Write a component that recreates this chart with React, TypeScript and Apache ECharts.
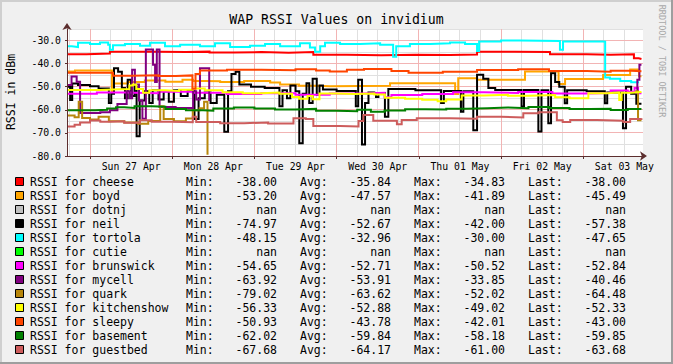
import React, { useEffect, useRef } from "react";
import * as echarts from "echarts";

type Pt = [number, number | null];

const TITLE = "WAP RSSI Values on invidium";
const Y_TITLE = "RSSI in dBm";
const WATERMARK = "RRDTOOL / TOBI OETIKER";

const SERIES_NAMES = ["cheese", "boyd", "dotnj", "neil", "tortola", "cutie", "brunswick", "mycell", "quark", "kitchenshow", "sleepy", "basement", "guestbed"];
const SERIES_COLORS = ["#FF0000", "#FFA500", "#C0C0C0", "#000000", "#00FFFF", "#00FF00", "#FF00FF", "#800080", "#B8860B", "#FFFF00", "#FF4500", "#008000", "#CD5C5C"];
const MIN_VALUES = ["-38.00", "-53.20", "nan", "-74.97", "-48.15", "nan", "-54.65", "-63.92", "-79.02", "-56.33", "-50.93", "-62.02", "-67.68"];
const AVG_VALUES = ["-35.84", "-47.57", "nan", "-52.67", "-32.96", "nan", "-52.71", "-53.91", "-63.62", "-52.88", "-43.78", "-59.84", "-64.17"];
const MAX_VALUES = ["-34.83", "-41.89", "nan", "-42.00", "-30.00", "nan", "-50.52", "-33.85", "-52.02", "-49.02", "-42.01", "-58.18", "-61.00"];
const LAST_VALUES = ["-38.00", "-45.49", "nan", "-57.38", "-47.65", "nan", "-52.84", "-40.46", "-64.48", "-52.33", "-43.00", "-59.85", "-63.68"];

// x = hours since Sun 27 Apr 00:00
const DAY_HOURS = [12, 36, 60, 84, 108, 132, 156];
const DAY_LABELS = ["Sun 27 Apr", "Mon 28 Apr", "Tue 29 Apr", "Wed 30 Apr", "Thu 01 May", "Fri 02 May", "Sat 03 May"];
const MAJOR_X = [0, 24, 48, 72, 96, 120, 144];
const MINOR_X = [-6, 6, 12, 18, 30, 36, 42, 54, 60, 66, 78, 84, 90, 102, 108, 114, 126, 132, 138, 150, 156];
const Y_TICKS = [-80, -70, -60, -50, -40, -30];
const MAJOR_Y = [-70, -60, -50, -40, -30];
const MINOR_Y = [-75, -65, -55, -45, -35, -25];
const X_MIN = -6.72;
const X_MAX = 161.45;
const Y_MIN = -80;
const Y_MAX = -25;

const CHEESE: Pt[] = [[-6.72, -35.9], [-1, -35.6], [5.8, -34.9], [12, -34.8], [20, -35.0], [28, -34.8], [34.9, -35.2], [42, -35.0], [50, -35.3], [58, -35.0], [65.2, -36.2], [75, -36.4], [85, -36.1], [95, -36.3], [105, -36.0], [113, -34.8], [124, -35.0], [134.3, -35.9], [145, -36.1], [152, -35.9], [158.8, -37.7], [160.2, -38.0], [161, -38.0]];
const BOYD: Pt[] = [[-6.72, -43.4], [-4.4, -43.0], [6.4, -52.0], [7.0, -48.6], [11, -48.0], [16, -47.3], [22, -47.8], [27, -47.0], [30.1, -47.5], [33.6, -47.6], [38, -48.0], [45, -47.5], [52.6, -48.2], [55.5, -49.0], [61, -49.6], [66, -49.8], [70.1, -49.6], [87.6, -48.5], [106.6, -53.2], [107.5, -46.3], [113.0, -47.0], [127.0, -43.4], [136.8, -48.8], [138.7, -46.7], [149.8, -44.9], [157.7, -42.5], [160.3, -45.5], [161, -45.49]];
const NEIL: Pt[] = [[-6.72, -50.0], [-5.8, -55.7], [-5.2, -48.6], [-3.5, -49.3], [0, -49.8], [2.5, -50.8], [5.5, -57.0], [6.2, -53.0], [7.0, -42.0], [8.2, -43.5], [9.3, -50.5], [10.2, -55.0], [11.0, -47.0], [12.0, -54.0], [13.0, -50.0], [13.6, -71.5], [14.5, -56.0], [16, -52.0], [17.3, -57.0], [18.3, -51.5], [20, -55.5], [21.5, -52.0], [23, -56.5], [24.5, -51.5], [26.5, -54.0], [28.5, -51.8], [30.5, -64.0], [31.7, -55.0], [33.5, -52.5], [35.2, -57.0], [37, -53.5], [39.2, -69.5], [40.3, -52.0], [41.3, -44.5], [42.5, -43.5], [43.6, -49.0], [47, -50.0], [51, -50.6], [55.3, -58.5], [56.2, -51.5], [57.5, -55.0], [58.5, -49.5], [60, -52.0], [61.1, -74.5], [62.1, -53.0], [63.2, -48.5], [64.0, -57.0], [65.0, -46.5], [66.2, -53.5], [67.0, -49.5], [68, -51.2], [72, -51.8], [77.6, -58.5], [78.3, -47.0], [79.4, -75.0], [80.3, -57.0], [81.3, -52.5], [83, -52.8], [83.5, -54.5], [84.2, -52.8], [86.1, -63.0], [87.1, -51.0], [95, -51.5], [102.5, -57.0], [103.3, -51.8], [108.3, -60.8], [109.0, -52.0], [111.9, -68.8], [113.0, -44.8], [114.8, -46.5], [116.3, -50.5], [118.3, -51.4], [126.0, -58.6], [126.7, -51.4], [130.9, -69.4], [131.8, -51.5], [133.8, -65.8], [134.6, -44.2], [135.8, -48.0], [137, -50.0], [138.6, -57.2], [139.3, -51.5], [145, -52.0], [150.3, -57.2], [151.0, -52.5], [155.6, -68.0], [156.5, -50.0], [158, -53.0], [159.5, -57.4], [161, -57.38]];
const TORTOLA: Pt[] = [[-6.72, -32.5], [-5.3, -32.8], [-3.5, -31.0], [0, -31.5], [2.9, -30.8], [5.3, -31.8], [5.8, -34.0], [6.7, -32.0], [10.2, -31.5], [14.6, -32.2], [17.5, -31.0], [21.9, -32.5], [26.3, -31.8], [32.1, -32.5], [36.5, -31.2], [40.9, -32.8], [46.7, -32.3], [51.1, -31.5], [55.5, -32.5], [61.3, -31.2], [64.2, -33.0], [65.7, -34.8], [67.2, -32.5], [68.6, -31.0], [73.0, -31.5], [78.8, -31.2], [84.7, -31.8], [88.5, -37.0], [89.4, -32.5], [93.4, -31.5], [99.3, -31.2], [105.1, -30.8], [109.5, -31.5], [113.0, -34.5], [113.6, -30.4], [120, -30.0], [125.6, -30.2], [137.2, -34.0], [138.1, -30.4], [149.8, -30.5], [150.4, -46.0], [151.8, -46.5], [154.8, -47.5], [158, -48.1], [160, -47.65]];
const BRUNSWICK: Pt[] = [[-6.72, -53.0], [2, -52.5], [10, -52.8], [20, -52.2], [30, -52.6], [40, -53.2], [50, -52.8], [60, -53.5], [70, -52.9], [80, -52.6], [86, -54.6], [88, -53.6], [97, -53.2], [106, -52.4], [115, -52.7], [125, -52.3], [135, -52.9], [145, -52.7], [152, -51.6], [157, -52.2], [159, -50.6], [160, -52.84], [161, -52.84]];
const MYCELL: Pt[] = [[-6.72, -49.2], [-5.4, -45.6], [-3.9, -47.8], [-2.9, -61.4], [3, -61.0], [5.8, -60.2], [8, -57.5], [10.7, -52.0], [11.6, -55.0], [12.3, -42.7], [13.1, -49.0], [14.3, -56.0], [15.3, -63.9], [16.3, -33.9], [18.4, -40.5], [19.0, -48.0], [19.5, -33.9], [20.3, -58.8], [25, -59.2], [30.1, -52.0], [31.0, -55.5], [32.1, -42.0], [34.8, -55.7], [35.1, null], [159.2, -52.8], [159.8, -47.0], [160.4, -40.5], [161, -40.46]];
const QUARK: Pt[] = [[-6.72, -62.5], [-4.5, -63.2], [-3.3, -56.5], [-2.3, -63.5], [0, -64.2], [2.5, -63.0], [5.5, -65.0], [10, -65.5], [14, -66.0], [17, -64.8], [20.5, -58.5], [21.5, -64.0], [24.5, -65.0], [28, -63.8], [30, -60.2], [32, -59.3], [33.3, -56.5], [34.3, -79.0], [34.6, null], [159.2, -52.0], [160.0, -64.5], [161, -64.48]];
const KITCHENSHOW: Pt[] = [[-6.72, -51.4], [3, -51.2], [6.6, -51.0], [11.5, -49.5], [12.5, -49.0], [13.5, -51.0], [15.5, -52.6], [17.3, -51.5], [22, -51.8], [26, -51.3], [30, -50.8], [33.5, -51.5], [38.7, -52.4], [44.6, -52.8], [50, -52.5], [55.3, -53.0], [59, -54.4], [61, -55.2], [63.5, -54.0], [65, -55.4], [67, -52.9], [72, -53.1], [77.4, -52.9], [83, -53.4], [86.1, -54.8], [92, -55.2], [97, -55.6], [101.5, -56.3], [104, -55.5], [108.5, -53.8], [115, -53.5], [122, -53.9], [128, -53.6], [135.8, -54.6], [140, -55.0], [145.5, -52.8], [151, -52.5], [154.5, -55.7], [155.2, -52.6], [158, -52.3], [161, -52.33]];
const SLEEPY: Pt[] = [[-6.72, -43.9], [6.7, -45.3], [12, -45.0], [20, -45.4], [25, -45.1], [29.9, -50.9], [30.8, -44.5], [32.1, -43.0], [40, -42.6], [50, -42.9], [60, -42.4], [66, -43.0], [70, -43.4], [75, -42.7], [80, -42.3], [88, -43.2], [93, -44.0], [103, -43.5], [113, -42.8], [125, -42.4], [134, -43.2], [145, -43.5], [152, -43.1], [158, -43.3], [161, -43.0]];
const BASEMENT: Pt[] = [[-6.72, -60.2], [1.5, -60.0], [5, -59.4], [7.6, -58.9], [10, -59.2], [13, -58.5], [18, -58.7], [22, -59.6], [28, -60.2], [33, -60.4], [36, -59.4], [42, -59.0], [48, -59.4], [54, -59.9], [60, -59.6], [66, -60.4], [72, -60.6], [78, -60.0], [82, -60.8], [86, -60.3], [92, -59.7], [98, -59.9], [104, -59.5], [110, -59.3], [116, -59.0], [122, -59.3], [128, -58.8], [134, -59.2], [140, -59.6], [146, -59.5], [152, -60.1], [157, -59.6], [161, -59.85]];
const GUESTBED: Pt[] = [[-6.72, -67.2], [-4.5, -66.5], [-2.9, -65.5], [0, -64.6], [3, -65.2], [5.8, -65.0], [10, -65.6], [14.6, -64.5], [18, -65.2], [24, -65.4], [30, -63.0], [31, -65.3], [38, -65.8], [45, -65.5], [52, -65.9], [59.4, -63.6], [63, -64.0], [65.2, -67.0], [73, -67.2], [78.4, -64.8], [79.8, -62.2], [82.7, -64.7], [89.6, -66.2], [91, -64.4], [95.4, -63.7], [105, -63.9], [113, -63.0], [120, -63.3], [126.5, -61.5], [131, -61.0], [136.3, -64.5], [138, -65.3], [140.2, -64.4], [148, -64.7], [155.7, -65.3], [157.7, -64.0], [161, -63.68]];

const SERIES_DATA: Pt[][] = [CHEESE, BOYD, [], NEIL, TORTOLA, [], BRUNSWICK, MYCELL, QUARK, KITCHENSHOW, SLEEPY, BASEMENT, GUESTBED];

const MONO = '"DejaVu Sans Mono", monospace';
const AXIS_COLOR = "#5C2E2E";
const MINOR_COLOR = "#E0E0E0";
const MAJOR_COLOR = "#F2B4B4";

function toSteps(pts: Pt[]): any[] {
  const out: any[] = [];
  for (let i = 0; i < pts.length; i++) {
    const [h, v] = pts[i];
    if (v === null) {
      out.push([h, "-"]);
      continue;
    }
    out.push([h, v]);
    if (i + 1 < pts.length) out.push([pts[i + 1][0], v]);
  }
  return out;
}

function txt(x: number, y: number, text: string, align: string, size = 11.5, fill = "#000", rotation = 0) {
  return {
    type: "text",
    x,
    y,
    rotation,
    silent: true,
    z: 10,
    style: { text, fill, fontFamily: MONO, fontSize: size, align, verticalAlign: "middle" },
  };
}

function baseGraphic(): any[] {
  const graphic: any[] = [];
  graphic.push({ type: "rect", silent: true, z: 10, shape: { x: 0, y: 0, width: 673, height: 2 }, style: { fill: "#CFCFCF" } });
  graphic.push({ type: "rect", silent: true, z: 10, shape: { x: 0, y: 0, width: 2, height: 364 }, style: { fill: "#CFCFCF" } });
  graphic.push({ type: "rect", silent: true, z: 10, shape: { x: 0, y: 362, width: 673, height: 2 }, style: { fill: "#9E9E9E" } });
  graphic.push({ type: "rect", silent: true, z: 10, shape: { x: 671, y: 0, width: 2, height: 364 }, style: { fill: "#9E9E9E" } });

  graphic.push(txt(336.5, 19, TITLE, "center", 13.2));
  graphic.push(txt(11, 92, Y_TITLE, "center", 11.5, "#000", Math.PI / 2));
  graphic.push(txt(662, 61, WATERMARK, "center", 8.5, "#A8A8A8", -Math.PI / 2));

  SERIES_NAMES.forEach((name, i) => {
    const y = 182 + 14 * i;
    graphic.push({
      type: "rect",
      silent: true,
      z: 10,
      shape: { x: 15.5, y: y - 4.5, width: 8, height: 8 },
      style: { fill: SERIES_COLORS[i], stroke: "#000", lineWidth: 1 },
    });
    graphic.push(txt(30, y, `RSSI for ${name}`, "left"));
    graphic.push(txt(186, y, "Min:", "left"));
    graphic.push(txt(277, y, MIN_VALUES[i], "right"));
    graphic.push(txt(300, y, "Avg:", "left"));
    graphic.push(txt(391, y, AVG_VALUES[i], "right"));
    graphic.push(txt(414, y, "Max:", "left"));
    graphic.push(txt(505, y, MAX_VALUES[i], "right"));
    graphic.push(txt(528, y, "Last:", "left"));
    graphic.push(txt(626, y, LAST_VALUES[i], "right"));
  });
  return graphic;
}

// grid lines, positioned through the chart's own scales
function gridLines(chart: any): any[] {
  const toPx = (x: number, y: number) => chart.convertToPixel({ gridIndex: 0 }, [x, y]) as number[];
  const out: any[] = [];
  const seg = (x1: number, y1: number, x2: number, y2: number, stroke: string) =>
    out.push({ type: "line", silent: true, z: 1, shape: { x1, y1, x2, y2 }, style: { stroke, lineWidth: 1 } });
  const addV = (v: number, stroke: string) => {
    const a = toPx(v, Y_MIN);
    const b = toPx(v, Y_MAX);
    const x = Math.floor(a[0]) + 0.5;
    seg(x, b[1], x, a[1], stroke);
  };
  const addH = (v: number, stroke: string) => {
    const a = toPx(X_MIN, v);
    const b = toPx(X_MAX, v);
    const y = Math.floor(a[1]) + 0.5;
    seg(a[0], y, b[0], y, stroke);
  };
  MINOR_X.forEach((v) => addV(v, MINOR_COLOR));
  MINOR_Y.forEach((v) => addH(v, MINOR_COLOR));
  MAJOR_X.forEach((v) => addV(v, MAJOR_COLOR));
  MAJOR_Y.forEach((v) => addH(v, MAJOR_COLOR));
  return out;
}

function buildOption() {
  const series: any[] = [];
  SERIES_NAMES.forEach((name, i) => {
    if (!SERIES_DATA[i].length) return;
    series.push({
      type: "line",
      name,
      data: toSteps(SERIES_DATA[i]),
      showSymbol: false,
      symbol: "none",
      silent: true,
      connectNulls: false,
      z: 5,
      lineStyle: { color: SERIES_COLORS[i], width: 2, cap: "butt", join: "miter" },
    });
  });

  return {
    animation: false,
    backgroundColor: "#F0F0F0",
    textStyle: { fontFamily: MONO },
    grid: { left: 67, right: 30, top: 29, bottom: 208, show: true, z: 0, backgroundColor: "#FFFFFF", borderWidth: 0 },
    xAxis: {
      type: "value",
      min: X_MIN,
      max: X_MAX,
      z: 6,
      splitLine: { show: false },
      splitArea: { show: false },
      axisLine: {
        show: true,
        onZero: false,
        lineStyle: { color: AXIS_COLOR, width: 1 },
        symbol: ["none", "arrow"],
        symbolSize: [7, 7],
        symbolOffset: [0, 4],
      },
      axisTick: { show: true, customValues: MAJOR_X, length: 3, lineStyle: { color: AXIS_COLOR } },
      axisLabel: {
        customValues: DAY_HOURS,
        margin: 5,
        color: "#000",
        fontFamily: MONO,
        fontSize: 9.8,
        formatter: (v: number) => {
          const i = DAY_HOURS.indexOf(Math.round(v));
          return i >= 0 ? DAY_LABELS[i] : "";
        },
      },
    },
    yAxis: {
      type: "value",
      min: Y_MIN,
      max: Y_MAX,
      interval: 10,
      z: 6,
      splitLine: { show: false },
      splitArea: { show: false },
      axisLine: {
        show: true,
        onZero: false,
        lineStyle: { color: AXIS_COLOR, width: 1 },
        symbol: ["none", "arrow"],
        symbolSize: [7, 7],
        symbolOffset: [0, 6],
      },
      axisTick: { show: true, customValues: Y_TICKS, length: 2, lineStyle: { color: AXIS_COLOR } },
      axisLabel: {
        customValues: Y_TICKS,
        margin: 6,
        color: "#000",
        fontFamily: MONO,
        fontSize: 9.8,
        formatter: (v: number) => v.toFixed(1),
      },
    },
    series,
  };
}

export default function App() {
  const ref = useRef<HTMLDivElement>(null);
  useEffect(() => {
    if (!ref.current) return;
    const chart = echarts.init(ref.current, null, { renderer: "svg" });
    chart.setOption(buildOption() as any);
    chart.setOption({ graphic: [...gridLines(chart), ...baseGraphic()] } as any);
    return () => chart.dispose();
  }, []);
  return (
    <div
      ref={ref}
      style={{ position: "absolute", left: 0, top: 0, width: 673, height: 364, background: "#F0F0F0" }}
    />
  );
}
